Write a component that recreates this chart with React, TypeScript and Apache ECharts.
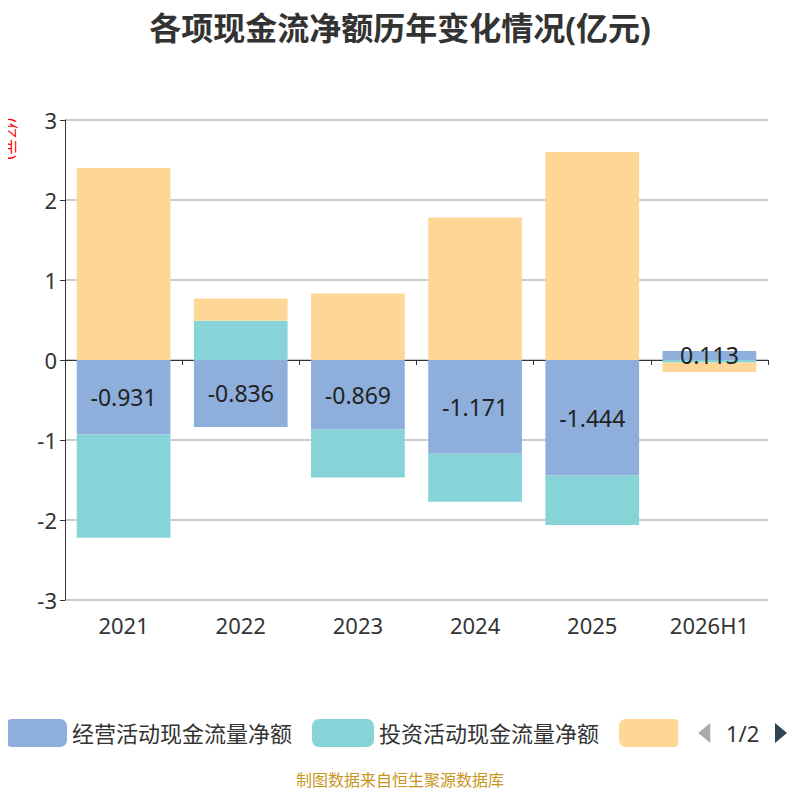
import React, { useEffect, useRef } from 'react'
import * as echarts from 'echarts'

const years = ['2021', '2022', '2023', '2024', '2025', '2026H1']
const operating = [-0.931, -0.836, -0.869, -1.171, -1.444, 0.113]
const investing = [-1.29, 0.49, -0.6, -0.6, -0.62, -0.03]
const financing = [2.4, 0.28, 0.83, 1.78, 2.6, -0.12]

export default function App() {
  const ref = useRef<HTMLDivElement | null>(null)

  useEffect(() => {
    if (!ref.current) return
    const chart = echarts.init(ref.current, null, { renderer: 'svg' })
    const font = '"Noto Sans", "Noto Sans CJK SC", sans-serif'
    chart.setOption({
      animation: false,
      textStyle: { fontFamily: font },
      color: ['#8eaedb', '#86d4d8', '#fed797'],
      title: {
        text: '各项现金流净额历年变化情况(亿元)',
        left: 'center', top: -2,
        textStyle: { fontSize: 32, fontWeight: 'bold', color: '#333', fontFamily: font },
      },
      grid: { left: 57, right: 24, top: 112, bottom: 192 },
      xAxis: {
        type: 'category', data: years,
        axisLine: { onZero: true, lineStyle: { color: '#333' } },
        axisTick: { show: true },
        axisLabel: { fontSize: 22, color: '#333', margin: 14 },
      },
      yAxis: {
        type: 'value', min: -3, max: 3, interval: 1,
        axisLine: { show: true, lineStyle: { color: '#333' } },
        axisTick: { show: true },
        axisLabel: { fontSize: 22, color: '#333' },
        splitLine: { lineStyle: { color: '#bbb', width: 1.5 } },
      },
      legend: {
        type: 'scroll', bottom: 40, left: -8, right: 0,
        itemWidth: 62, itemHeight: 28, itemGap: 20,
        textStyle: { fontSize: 22, color: '#333' },
        pageTextStyle: { fontSize: 22, color: '#333' },
        pageIconSize: 20,
        pageIconColor: '#2f4554', pageIconInactiveColor: '#aaa',
      },
      graphic: [
        {
          type: 'text', left: 'center', bottom: 4,
          style: { text: '制图数据来自恒生聚源数据库', fontSize: 16, fill: '#c8961e', fontFamily: font },
        },
        {
          type: 'text', x: 10, y: 110, rotation: -Math.PI / 2,
          style: { text: '(亿元)', fontSize: 16, fill: 'red', fontFamily: font },
        },
      ],
      series: [
        { name: '经营活动现金流量净额', type: 'bar', stack: 'a', data: operating, barWidth: '80%',
          label: { show: true, position: 'inside', fontSize: 23, color: '#222',
            formatter: (p: any) => p.value.toFixed(3) } },
        { name: '投资活动现金流量净额', type: 'bar', stack: 'a', data: investing },
        { name: '筹资活动现金流量净额', type: 'bar', stack: 'a', data: financing },
      ],
    } as any)
    return () => chart.dispose()
  }, [])

  return <div ref={ref} style={{ width: 784, height: 784 }} />
}
